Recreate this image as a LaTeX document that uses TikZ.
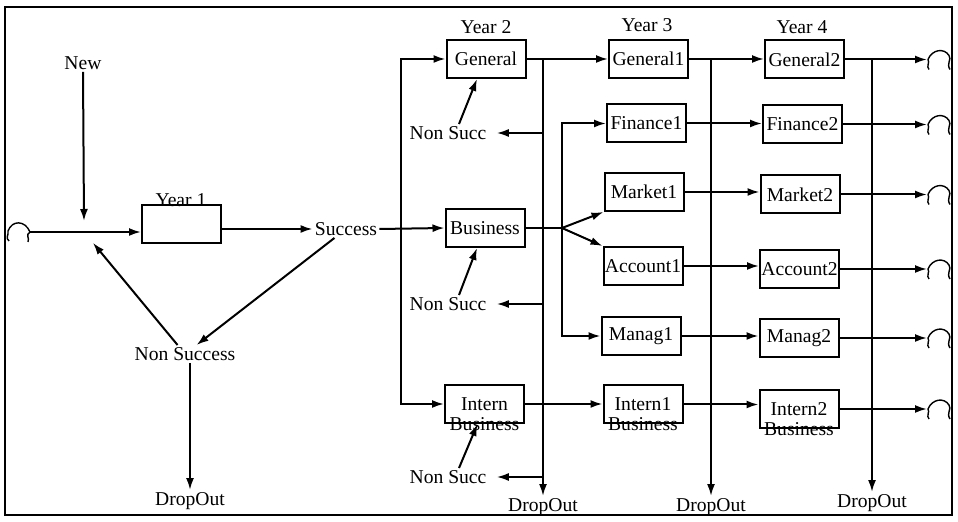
\documentclass[tikz,border=0pt]{standalone}
\usepackage{fontspec}
\setmainfont{Liberation Serif}
\usetikzlibrary{arrows.meta,calc}
\begin{document}
\begin{tikzpicture}[x=0.5pt,y=-0.5pt,
  txt/.style={font=\fontsize{9.8}{10.5}\selectfont, inner sep=1pt},
  box/.style={draw, line width=1pt, minimum width=39.5pt, minimum height=19pt, inner sep=0pt, font=\fontsize{9.8}{10.5}\selectfont},
  ln/.style={line width=1pt},
  arr/.style={ln, -{Latex[length=6pt,width=4pt]}},
  cloudline/.style={line width=0.7pt},
  cloudR/.pic={\draw[cloudline] (2,10) .. controls (-1,7) and (3,3) .. (1,0) .. controls (5,-10) and (17,-12) .. (22,-4) .. controls (25,0) and (19,4) .. (23,10);}]
\useasboundingbox (0,0) rectangle (958,522);
\draw[line width=1pt] (5,7) rectangle (952,515);

% ---- Year 1 part
\node[txt] (new) at (83,63) {New};
\node[box] (y1) at (181.5,224) {};
\node[txt] (y1l) at (181,200) {Year 1};
\node[txt] (succ) at (346,229) {Success};
\node[txt] (nons) at (185,354) {Non Success};
\node[txt] (d1) at (190,501) {DropOut};
\coordinate (cl) at (30,232);
\coordinate (j1) at (84,232);
\coordinate (j1top) at (84,221);
\draw[cloudline] (9,241) .. controls (5,238) and (9,235) .. (8,231) .. controls (12,220) and (25,220) .. (30,232) .. controls (25,235) and (30,238) .. (28,242);
\draw[arr] (new.south) -- (j1top);
\draw[arr] (cl) -- (cl -| y1.west);
\draw[arr] (y1.east |- succ.west) -- (succ.west);
\draw[arr] (succ) -- (nons);
\draw[arr, shorten >=7pt] (nons) -- (j1);
\draw[arr] (d1.north |- nons.south) -- (d1.north);

% ---- Year 2
\node[txt] (y2l) at (486,27) {Year 2};
\node[box] (gen) at (486,59) {General};
\node[box] (bus) at (485,228) {Business};
\node[box, label={[txt, anchor=center]south:Business}] (ib) at (484.5,404) {Intern};
\node[txt] (nsa) at (448,133) {Non Succ};
\node[txt] (nsb) at (448,304) {Non Succ};
\node[txt] (nsc) at (448,477) {Non Succ};
\node[txt] (d2) at (543,507) {DropOut};
\coordinate (v1) at (401,229);
\draw[arr] (succ.east) -- (bus.west);
\draw[arr] (v1) |- (gen.west);
\draw[arr] (v1) |- (ib.west);
\draw[arr] ($(nsa.north)+(11,0)$) -- ($(gen.south)+(-9,0)$);
\draw[arr] ($(nsb.north)+(11,0)$) -- ($(bus.south)+(-8,0)$);
\draw[arr] ($(nsc.north)+(11,0)$) -- ($(ib.south)+(-7,0)$);

% ---- Year 3
\node[txt] (y3l) at (647,25) {Year 3};
\node[box] (gen1) at (648.5,59) {General1};
\node[box] (fin1) at (646.5,123.5) {Finance1};
\node[box] (mk1) at (644,192) {Market1};
\node[box] (ac1) at (643,266) {Account1};
\node[box] (man1) at (641,336) {Manag1};
\node[box, label={[txt, anchor=center]south:Business}] (in1) at (643,404.5) {Intern1};
\node[txt] (d3) at (711,507) {DropOut};
\coordinate (j2) at (562,228);
\draw[arr] (gen.east) -- (gen.east -| gen1.west);
\draw[ln] (bus.east) -- (j2);
\draw[arr] (j2) |- (fin1.west);
\draw[arr] (j2) |- (man1.west);
\draw[arr] (j2) -- (mk1.south west);
\draw[arr] (j2) -- (ac1.north west);
\draw[arr] (ib.east) -- (ib.east -| in1.west);
\draw[arr] (d2.north |- gen.east) -- (d2.north);
\draw[arr, shorten >=4pt] (d2.north |- nsa) -- (nsa.east);
\draw[arr, shorten >=4pt] (d2.north |- nsb) -- (nsb.east);
\draw[arr, shorten >=4pt] (d2.north |- nsc) -- (nsc.east);

% ---- Year 4
\node[txt] (y4l) at (802,27) {Year 4};
\node[box] (gen2) at (804.5,59.5) {General2};
\node[box] (fin2) at (802.5,124.5) {Finance2};
\node[box] (mk2) at (800,194.5) {Market2};
\node[box] (ac2) at (799.5,269) {Account2};
\node[box] (man2) at (799,338) {Manag2};
\node[box, label={[txt, anchor=center]south:Business}] (in2) at (799,409) {Intern2};
\node[txt] (d4) at (872,503) {DropOut};
\draw[arr] (gen1.east) -- (gen1.east -| gen2.west);
\draw[arr] (fin1.east) -- (fin1.east -| fin2.west);
\draw[arr] (mk1.east) -- (mk1.east -| mk2.west);
\draw[arr] (ac1.east) -- (ac1.east -| ac2.west);
\draw[arr] (man1.east) -- (man1.east -| man2.west);
\draw[arr] (in1.east) -- (in1.east -| in2.west);
\draw[arr] (d3.north |- gen1.east) -- (d3.north);

% ---- exits to clouds
\foreach \b/\c in {gen2/c1, fin2/c2, mk2/c3, ac2/c4, man2/c5, in2/c6}{
  \coordinate (\c) at (927,0 |- \b.east);
  \draw[arr] (\b.east) -- (\c);
  \pic at (\c) {cloudR};
}
\draw[arr] (d4.north |- gen2.east) -- (d4.north);
\end{tikzpicture}
\end{document}
